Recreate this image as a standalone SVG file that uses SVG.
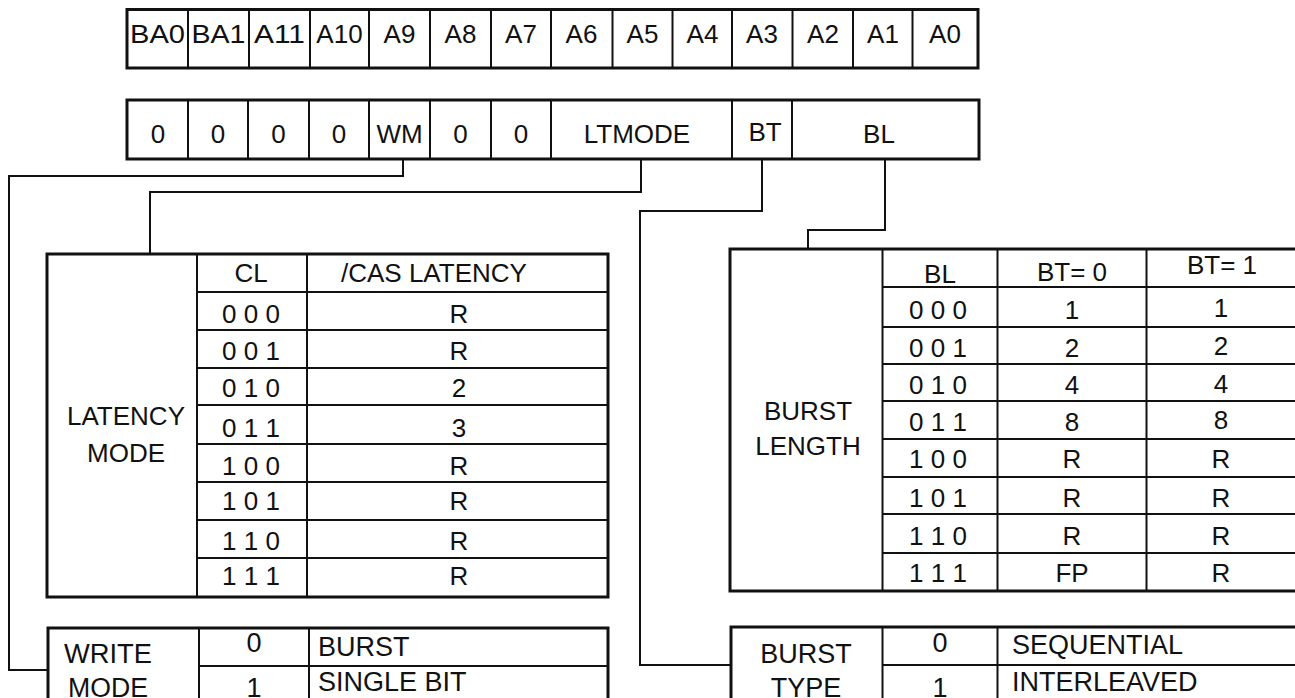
<svg xmlns="http://www.w3.org/2000/svg" width="1295" height="698" viewBox="0 0 1295 698">
<style>
text{font-family:"Liberation Sans",Arial,sans-serif;font-size:26px;fill:#111}
.m{text-anchor:middle}
.b{font-size:27px}
.box{fill:#fff;stroke:#111;stroke-width:3}
.ln{stroke:#111;stroke-width:2;fill:none}
.cn{stroke:#111;stroke-width:2;fill:none}
</style>
<rect width="1295" height="698" fill="#fff"/>

<g id="address-row">
<rect class="box" x="127" y="9.5" width="851" height="58.5"/>
<path class="ln" d="M188,9.5V68M249,9.5V68M310,9.5V68M369,9.5V68M430,9.5V68M491,9.5V68M551,9.5V68M612.5,9.5V68M672.5,9.5V68M732,9.5V68M792.5,9.5V68M853,9.5V68M912.5,9.5V68"/>
<text class="m" x="157.5" y="43" textLength="55" lengthAdjust="spacingAndGlyphs">BA0</text>
<text class="m" x="218.5" y="43" textLength="54" lengthAdjust="spacingAndGlyphs">BA1</text>
<text class="m" x="279.5" y="43" textLength="51" lengthAdjust="spacingAndGlyphs">A11</text>
<text class="m" x="339.5" y="43">A10</text>
<text class="m" x="399.5" y="43">A9</text>
<text class="m" x="460.5" y="43">A8</text>
<text class="m" x="521" y="43">A7</text>
<text class="m" x="581.5" y="43">A6</text>
<text class="m" x="642.5" y="43">A5</text>
<text class="m" x="702.5" y="43">A4</text>
<text class="m" x="762" y="43">A3</text>
<text class="m" x="823" y="43">A2</text>
<text class="m" x="883" y="43">A1</text>
<text class="m" x="945" y="43">A0</text>
</g>

<g id="mode-register">
<rect class="box" x="127" y="100" width="852" height="59"/>
<path class="ln" d="M188,100V159M248,100V159M309,100V159M369,100V159M430,100V159M491,100V159M551,100V159M732,100V159M792,100V159"/>
<text class="m" x="158" y="143">0</text>
<text class="m" x="218" y="143">0</text>
<text class="m" x="278.5" y="143">0</text>
<text class="m" x="339" y="143">0</text>
<text class="m" x="399.5" y="143">WM</text>
<text class="m" x="460.5" y="143">0</text>
<text class="m" x="521" y="143">0</text>
<text class="m" x="637" y="143">LTMODE</text>
<text class="m" x="765" y="141">BT</text>
<text class="m" x="879" y="143">BL</text>
</g>

<g id="connectors">
<path class="cn" d="M403,159V176H9V670H48"/>
<path class="cn" d="M641,159V192H150V254"/>
<path class="cn" d="M762,159V211H640V665H731"/>
<path class="cn" d="M885,159V230H808V249"/>
</g>

<g id="latency-mode">
<rect class="box" x="47" y="254" width="561" height="343"/>
<path class="ln" d="M197,254V597M307,254V597M197,292H608M197,330H608M197,368H608M197,405H608M197,444H608M197,482H608M197,520H608M197,558H608"/>
<text class="m" x="126" y="425">LATENCY</text>
<text class="m" x="126" y="462">MODE</text>
<text class="m" x="251" y="282">CL</text>
<text x="341" y="282">/CAS LATENCY</text>
<text class="m" x="251" y="323">0 0 0</text>
<text class="m" x="251" y="360">0 0 1</text>
<text class="m" x="251" y="397">0 1 0</text>
<text class="m" x="251" y="437">0 1 1</text>
<text class="m" x="251" y="475">1 0 0</text>
<text class="m" x="251" y="510">1 0 1</text>
<text class="m" x="251" y="550">1 1 0</text>
<text class="m" x="251" y="585">1 1 1</text>
<text class="m" x="459" y="323">R</text>
<text class="m" x="459" y="360">R</text>
<text class="m" x="459" y="397">2</text>
<text class="m" x="459" y="437">3</text>
<text class="m" x="459" y="475">R</text>
<text class="m" x="459" y="510">R</text>
<text class="m" x="459" y="550">R</text>
<text class="m" x="459" y="585">R</text>
</g>

<g id="burst-length">
<rect class="box" x="730" y="249" width="580" height="342"/>
<path class="ln" d="M882.5,249V591M997.5,249V591M1146.5,249V591M882.5,287H1310M882.5,327H1310M882.5,364H1310M882.5,401H1310M882.5,439H1310M882.5,477H1310M882.5,514H1310M882.5,553H1310"/>
<text class="m" x="808" y="420">BURST</text>
<text class="m" x="808" y="455">LENGTH</text>
<text class="m" x="940" y="283">BL</text>
<text class="m" x="1072" y="281">BT= 0</text>
<text class="m" x="1222" y="274">BT= 1</text>
<text class="m" x="938" y="319">0 0 0</text>
<text class="m" x="938" y="357">0 0 1</text>
<text class="m" x="938" y="394">0 1 0</text>
<text class="m" x="938" y="431">0 1 1</text>
<text class="m" x="938" y="468">1 0 0</text>
<text class="m" x="938" y="507">1 0 1</text>
<text class="m" x="938" y="545">1 1 0</text>
<text class="m" x="938" y="582">1 1 1</text>
<text class="m" x="1072" y="319">1</text>
<text class="m" x="1072" y="357">2</text>
<text class="m" x="1072" y="394">4</text>
<text class="m" x="1072" y="431">8</text>
<text class="m" x="1072" y="468">R</text>
<text class="m" x="1072" y="507">R</text>
<text class="m" x="1072" y="545">R</text>
<text class="m" x="1072" y="582">FP</text>
<text class="m" x="1221" y="317">1</text>
<text class="m" x="1221" y="355">2</text>
<text class="m" x="1221" y="393">4</text>
<text class="m" x="1221" y="429">8</text>
<text class="m" x="1221" y="468">R</text>
<text class="m" x="1221" y="507">R</text>
<text class="m" x="1221" y="545">R</text>
<text class="m" x="1221" y="582">R</text>
</g>

<g id="write-mode">
<rect class="box" x="48" y="628" width="560" height="100"/>
<path class="ln" d="M199,628V728M309,628V728M199,666H608"/>
<text class="m b" x="108" y="663" textLength="88" lengthAdjust="spacingAndGlyphs">WRITE</text>
<text class="m b" x="108" y="697" textLength="80" lengthAdjust="spacingAndGlyphs">MODE</text>
<text class="m b" x="254" y="652">0</text>
<text class="m b" x="254" y="697">1</text>
<text class="b" x="318" y="656">BURST</text>
<text class="b" x="318" y="691">SINGLE BIT</text>
</g>

<g id="burst-type">
<rect class="box" x="731" y="627" width="580" height="100"/>
<path class="ln" d="M882.5,627V727M997.5,627V727M882.5,665H1311"/>
<text class="m b" x="806" y="663">BURST</text>
<text class="m b" x="806" y="697">TYPE</text>
<text class="m b" x="940" y="652">0</text>
<text class="m b" x="940" y="697">1</text>
<text class="b" x="1012" y="654">SEQUENTIAL</text>
<text class="b" x="1012" y="691">INTERLEAVED</text>
</g>
</svg>
